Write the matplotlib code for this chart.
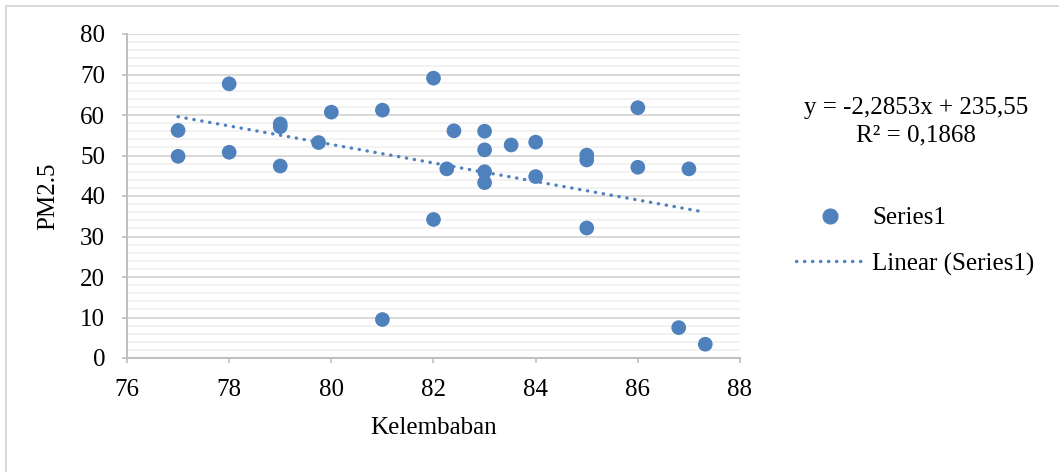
import matplotlib
matplotlib.use("Agg")
import matplotlib.pyplot as plt
from matplotlib.lines import Line2D
import numpy as np

# Data
kelembaban = [77.0, 77.0, 78.0, 78.0, 79.0, 79.0, 79.0, 79.75, 80.0, 81.0, 81.0,
              82.0, 82.0, 82.26, 82.4, 83.0, 83.0, 83.0, 83.0, 83.52, 84.0, 84.0,
              85.0, 85.0, 85.0, 86.0, 86.0, 87.0, 86.8, 87.32]
pm25 = [56.2, 49.8, 67.7, 50.8, 57.8, 57.1, 47.4, 53.2, 60.7, 61.2, 9.5,
        69.1, 34.2, 46.7, 56.1, 56.0, 51.4, 46.0, 43.3, 52.6, 53.3, 44.8,
        50.1, 48.9, 32.1, 61.8, 47.1, 46.7, 7.5, 3.4]

slope = -2.2853
intercept = 235.55
r_squared = 0.1868

x_ticks = [76, 78, 80, 82, 84, 86, 88]
y_ticks = [0, 10, 20, 30, 40, 50, 60, 70, 80]

color = "#4F81BD"
font = "Liberation Serif"
fs = 18

plt.rcParams['font.family'] = [font, 'DejaVu Serif']

fig = plt.figure(figsize=(10.59, 4.72), dpi=100)
ax = fig.add_axes([127/1059, 1-358/472, (740-127)/1059, (358-34)/472])

ax.set_xlim(76, 88)
ax.set_ylim(0, 80)
ax.set_xticks(x_ticks)
ax.set_yticks(y_ticks)
ax.set_yticks(np.arange(0, 81, 2), minor=True)
ax.tick_params(axis='both', which='major', labelsize=fs, length=3.8, width=1.2,
               color="#BFBFBF", direction='out')
ax.tick_params(axis='y', which='major', pad=12)
ax.tick_params(axis='x', which='major', pad=11)
ax.tick_params(axis='y', which='minor', length=0)
ax.grid(True, which='major', axis='y', color="#D9D9D9", lw=1.4, zorder=0)
ax.grid(True, which='minor', axis='y', color="#F2F2F2", lw=1.4, zorder=0)
ax.set_axisbelow(True)
for s in ['top', 'right']:
    ax.spines[s].set_visible(False)
for s in ['left', 'bottom']:
    ax.spines[s].set_color("#BFBFBF")
    ax.spines[s].set_linewidth(1.4)

ax.scatter(kelembaban, pm25, s=112, color=color, edgecolors='none', zorder=3,
           label='Series1')

xmin, xmax = min(kelembaban), max(kelembaban)
xt = np.array([xmin, xmax])
ax.plot(xt, slope*xt + intercept, color=color, lw=2.4,
        linestyle=(0, (0.1, 2.3)), dash_capstyle='round', zorder=4,
        label='Linear (Series1)')

ax.set_xlabel("Kelembaban", fontsize=fs, labelpad=12)
ax.set_ylabel("PM2.5", fontsize=fs, labelpad=15)

fig.text(916/1059, 1-108/472, "y = -2,2853x + 235,55", ha='center', va='center', fontsize=fs)
fig.text(916/1059, 1-135/472, "R² = 0,1868", ha='center', va='center', fontsize=fs)

handles = [Line2D([], [], marker='o', ls='none', color=color, markersize=10.6),
           Line2D([], [], color=color, lw=2.4, linestyle=(0, (0.1, 2.3)), dash_capstyle='round')]
fig.legend(handles, ["Series1", "Linear (Series1)"], loc='upper left',
           bbox_to_anchor=(796/1059, 1-207/472), frameon=False, fontsize=fs,
           handlelength=2.7, handletextpad=0.35, labelspacing=0.92, borderpad=0,
           borderaxespad=0)

fig.add_artist(Line2D([6/1059, 1058/1059], [1-6/472, 1-6/472], color="#D9D9D9", lw=1.4,
                      transform=fig.transFigure))
fig.add_artist(Line2D([6/1059, 6/1059], [1-6/472, 0], color="#D9D9D9", lw=1.4,
                      transform=fig.transFigure))

fig.savefig("out.png", dpi=100)
